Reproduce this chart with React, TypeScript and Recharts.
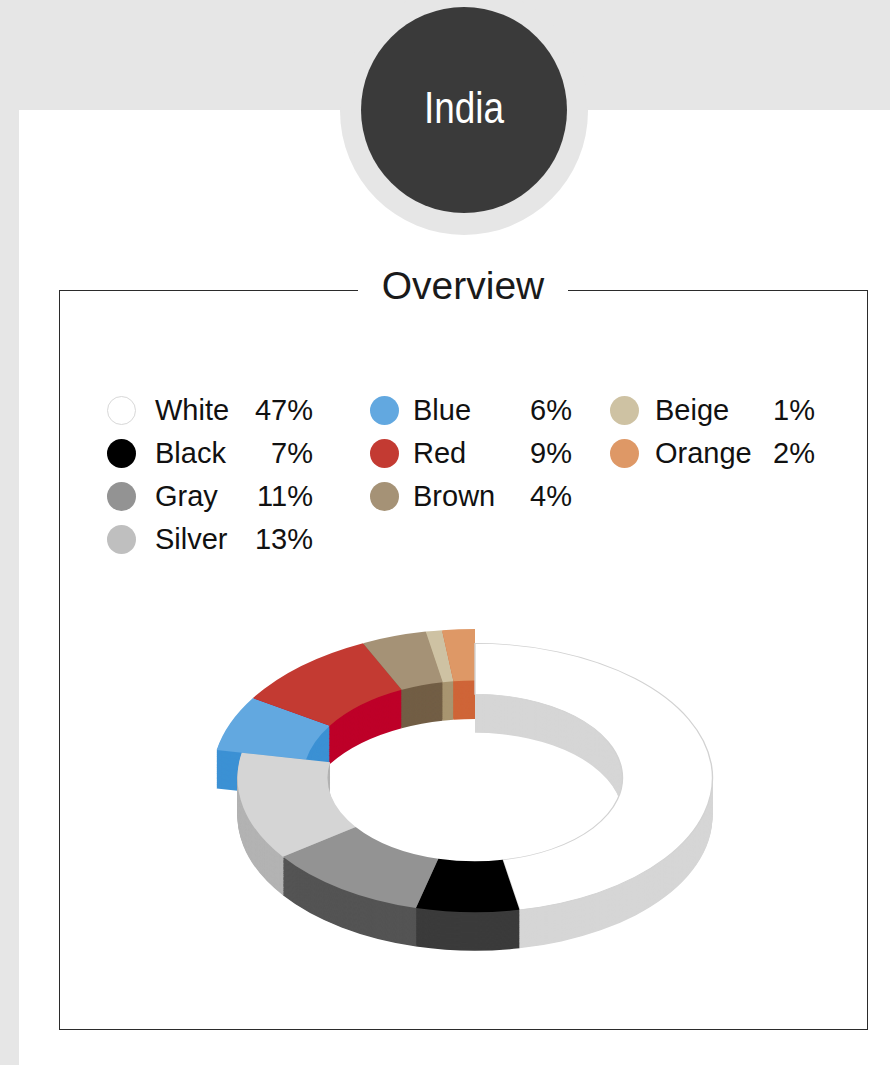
import { PieChart, Pie, Cell } from 'recharts';

const colorNames = ['White', 'Black', 'Gray', 'Silver', 'Blue', 'Red', 'Brown', 'Beige', 'Orange'];
const shares = [47, 7, 11, 13, 6, 9, 4, 1, 2];
const topColors = ['#ffffff', '#000000', '#939393', '#d5d5d5', '#62a8e0', '#c33a32', '#a59276', '#cec2a3', '#de9866'];
const sideColors = ['#d6d6d6', '#3b3b3b', '#545454', '#b3b3b3', '#3c91d4', '#be0029', '#725e45', '#a89570', '#cf6538'];
const swatchColors = ['#ffffff', '#000000', '#939393', '#bfbfbf', '#62a8e0', '#c33a32', '#a59276', '#cec2a3', '#de9866'];
// slices pulled out of the ring (the back-left group)
const pulledOut = [false, false, false, false, true, true, true, true, true];
const legendColumns = [
  [0, 1, 2, 3],
  [4, 5, 6],
  [7, 8],
];

const data = colorNames.map((name, i) => ({ name, value: shares[i] }));

// fake 3D: the ring is drawn flat, stacked a few dozen times and squashed with scaleY
const TILT = 0.566;
const DEPTH = 68;
const STEP = 1.5;
const CX = 300;
const CY = 270;
const CHART_W = 600;
const CHART_H = 610;
const offsets = Array.from({ length: Math.round(DEPTH / STEP) }, (_, i) => DEPTH - i * STEP);

const FONT = '"Liberation Sans", Arial, Helvetica, sans-serif';

const legendX = [
  { swatch: 121, text: 155, right: 313 },
  { swatch: 384, text: 413, right: 572 },
  { swatch: 624, text: 655, right: 815 },
];

function ringLayer(key: string, dy: number, outward: boolean, top: boolean) {
  return (
    <Pie
      key={key}
      data={data}
      dataKey="value"
      nameKey="name"
      cx={CX}
      cy={CY + dy}
      innerRadius={outward ? 172 : 147.5}
      outerRadius={outward ? 263 : 237.5}
      startAngle={90}
      endAngle={-270}
      stroke="none"
      isAnimationActive={false}
    >
      {data.map((d, i) => {
        const visible = pulledOut[i] === outward;
        const fill = !visible ? 'transparent' : top ? topColors[i] : sideColors[i];
        const outline = top && visible && d.name === 'White';
        return (
          <Cell
            key={d.name}
            fill={fill}
            stroke={outline ? '#d2d2d2' : 'none'}
            strokeWidth={outline ? 1.4 : 0}
          />
        );
      })}
    </Pie>
  );
}

function Legend() {
  return (
    <>
      {legendColumns.map((col, c) =>
        col.map((idx, r) => {
          const x = legendX[c];
          const cy = 410 + r * 43;
          return (
            <div
              key={colorNames[idx]}
              style={{
                position: 'absolute',
                left: x.swatch - 14.5,
                top: cy - 14.5,
                width: x.right - (x.swatch - 14.5),
                height: 29,
                display: 'flex',
                alignItems: 'center',
                fontFamily: FONT,
                fontSize: 29,
                lineHeight: '29px',
                color: '#111',
              }}
            >
              <span
                style={{
                  width: 29,
                  height: 29,
                  boxSizing: 'border-box',
                  borderRadius: '50%',
                  background: swatchColors[idx],
                  border: idx === 0 ? '1px solid #d8d8d8' : 'none',
                  flex: 'none',
                }}
              />
              <span style={{ marginLeft: x.text - x.swatch - 14.5, flex: 1 }}>{colorNames[idx]}</span>
              <span>{shares[idx]}%</span>
            </div>
          );
        })
      )}
    </>
  );
}

export default function App() {
  return (
    <div
      style={{
        position: 'absolute',
        left: 0,
        top: 0,
        width: 890,
        height: 1065,
        background: '#e6e6e6',
        overflow: 'hidden',
      }}
    >
      <div style={{ position: 'absolute', left: 19, top: 110, right: 0, bottom: 0, background: '#fff' }} />

      <div
        style={{
          position: 'absolute',
          left: 464 - 124,
          top: 111 - 124,
          width: 248,
          height: 248,
          borderRadius: '50%',
          background: '#e6e6e6',
        }}
      />
      <div
        style={{
          position: 'absolute',
          left: 464 - 103,
          top: 110 - 103,
          width: 206,
          height: 206,
          borderRadius: '50%',
          background: '#3a3a3a',
        }}
      />
      <div
        style={{
          position: 'absolute',
          left: 364,
          top: 85,
          width: 200,
          textAlign: 'center',
          fontFamily: FONT,
          fontSize: 45,
          lineHeight: '45px',
          color: '#fff',
          transform: 'scaleX(0.82)',
        }}
      >
        India
      </div>

      <div
        style={{
          position: 'absolute',
          left: 59,
          top: 290,
          width: 809,
          height: 740,
          boxSizing: 'border-box',
          border: '1px solid #2b2b2b',
        }}
      />
      <div
        style={{
          position: 'absolute',
          left: 358,
          top: 266,
          width: 210,
          textAlign: 'center',
          background: '#fff',
          fontFamily: FONT,
          fontSize: 39,
          lineHeight: '39px',
          color: '#1a1a1a',
        }}
      >
        Overview
      </div>

      <Legend />

      <div
        style={{
          position: 'absolute',
          left: 475 - CX,
          top: 778 - CY * TILT,
          width: CHART_W,
          height: CHART_H,
          transform: `scaleY(${TILT})`,
          transformOrigin: '0 0',
        }}
      >
        <PieChart width={CHART_W} height={CHART_H} margin={{ top: 0, right: 0, bottom: 0, left: 0 }}>
          {offsets.map((o) => ringLayer(`out-${o}`, o, true, false))}
          {ringLayer('out-top', 0, true, true)}
          {offsets.map((o) => ringLayer(`main-${o}`, o, false, false))}
          {ringLayer('main-top', 0, false, true)}
        </PieChart>
      </div>
    </div>
  );
}
